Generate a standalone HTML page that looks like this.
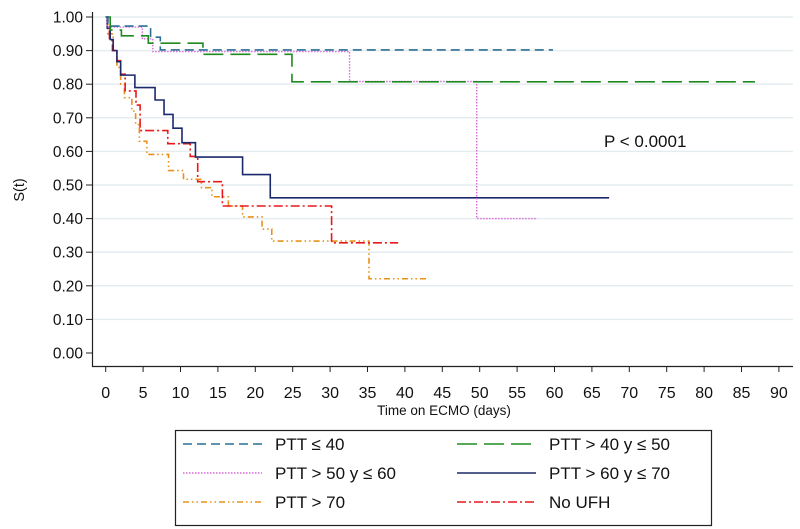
<!DOCTYPE html>
<html><head><meta charset="utf-8"><style>
body{margin:0;background:#fff;}
svg{display:block;font-family:"Liberation Sans",Arial,sans-serif;}
</style></head><body>
<svg id="chart" width="800" height="529" viewBox="0 0 800 529" xmlns="http://www.w3.org/2000/svg">
<g id="grid"></g>
<g id="axes"></g>
<g id="series"></g>
<text x="604" y="147" font-size="17" fill="#111">P &lt; 0.0001</text>
<text x="444" y="415" font-size="13.5" fill="#111" text-anchor="middle">Time on ECMO (days)</text>
<text transform="translate(24,190) rotate(-90)" font-size="14.5" fill="#111" text-anchor="middle">S(t)</text>
<g id="legend">
<rect x="175.5" y="430.5" width="536" height="95" fill="none" stroke="#222" stroke-width="1.2"/>
</g>
</svg>
<script>
const xTicks=[0,5,10,15,20,25,30,35,40,45,50,55,60,65,70,75,80,85,90];
const yTicks=[0,0.1,0.2,0.3,0.4,0.5,0.6,0.7,0.8,0.9,1.0];
const yTickLabels=["0.00","0.10","0.20","0.30","0.40","0.50","0.60","0.70","0.80","0.90","1.00"];
const seriesNames=["PTT ≤ 40","PTT > 40 y ≤ 50","PTT > 50 y ≤ 60","PTT > 60 y ≤ 70","PTT > 70","No UFH"];
const t1=[0,0.3,6.0,7.3,59.8];            const s1=[1,0.973,0.94,0.902,0.902];
const t2=[0,0.6,2.1,5.7,13.0,24.9,86.8];  const s2=[1,0.961,0.944,0.922,0.889,0.807,0.807];
const t3=[0,0.2,4.9,6.3,32.6,49.6,57.7];  const s3=[1,0.97,0.935,0.897,0.808,0.40,0.40];
const t4=[0,0.2,0.6,1.0,1.5,2.0,3.9,6.6,7.8,9.0,10.2,12.0,18.3,22.0,67.3];
const s4=[1,0.967,0.933,0.90,0.867,0.827,0.79,0.753,0.71,0.669,0.626,0.583,0.531,0.462,0.462];
const t5=[0,0.3,1.0,1.5,2.0,2.5,3.5,4.0,4.5,5.5,8.4,10.4,12.8,14.2,16.4,18.3,20.9,22.2,35.2,43.1];
const s5=[1,0.95,0.90,0.85,0.80,0.76,0.72,0.68,0.63,0.591,0.543,0.517,0.492,0.465,0.4375,0.405,0.369,0.333,0.221,0.221];
const t6=[0,0.2,0.5,0.9,1.5,2.0,2.6,4.05,4.6,8.3,11.3,12.3,15.6,30.2,39.1];
const s6=[1,0.97,0.93,0.90,0.87,0.83,0.78,0.738,0.662,0.623,0.585,0.51,0.4375,0.328,0.328];

const NS="http://www.w3.org/2000/svg";
const X=t=>105.7+7.48*t;
const Y=v=>353-336*v;
function mk(tag,attrs,parent){const e=document.createElementNS(NS,tag);for(const k in attrs)e.setAttribute(k,attrs[k]);parent.appendChild(e);return e;}
const grid=document.getElementById('grid'),axes=document.getElementById('axes'),ser=document.getElementById('series'),leg=document.getElementById('legend');
yTicks.forEach((v,i)=>{
  if(v>0){const g=mk('line',{x1:92,x2:793,y1:Y(v),y2:Y(v),stroke:'#e6edf0','stroke-width':1.5},grid);
  
  }
  const tk=mk('line',{x1:86,x2:92,y1:Y(v),y2:Y(v),stroke:'#222','stroke-width':1},axes);
  
  
  const tx=mk('text',{x:83,y:Y(v)+5.5,'font-size':15.5,'text-anchor':'end',fill:'#111'},axes);
  tx.textContent=yTickLabels[i];
  
  
});
xTicks.forEach(t=>{
  const tk=mk('line',{x1:X(t),x2:X(t),y1:366,y2:372,stroke:'#222','stroke-width':1},axes);
  
  
  const tx=mk('text',{x:X(t),y:398,'font-size':16,'text-anchor':'middle',fill:'#111'},axes);
  tx.textContent=t;
  
  
});
const ax=mk('path',{d:'M92.5,12 V366.5 H793',fill:'none',stroke:'#222','stroke-width':1.2},axes);



const styles=[
 {c:'#2a6f97',d:'9,5',w:1.6},
 {c:'#1f8a1f',d:'20,7',w:1.6},
 {c:'#d86ad8',d:'1.5,1.5',w:1.4},
 {c:'#1b2a6b',d:'',w:1.6},
 {c:'#e8901a',d:'6,3,1.5,3,1.5,3',w:1.6},
 {c:'#e8191c',d:'9,3,2,3',w:1.6}];
const allT=[t1,t2,t3,t4,t5,t6],allS=[s1,s2,s3,s4,s5,s6];
const order=[4,5,3,2,1,0];
order.forEach(k=>{
  const T=allT[k],S=allS[k];
  let d='M'+X(T[0])+','+Y(S[0]);
  for(let i=1;i<T.length;i++){d+=' H'+X(T[i])+' V'+Y(S[i]);}
  const p=mk('path',{d:d,fill:'none',stroke:styles[k].c,'stroke-width':styles[k].w,'stroke-dasharray':styles[k].d},ser);
  
  
});
const legPos=[[183,450],[457,450],[183,479],[457,479],[183,508],[457,508]];
seriesNames.forEach((n,k)=>{
  const [lx,ly]=legPos[k];
  const l=mk('line',{x1:lx,x2:lx+79,y1:ly-6,y2:ly-6,stroke:styles[k].c,'stroke-width':styles[k].w,'stroke-dasharray':styles[k].d},leg);
  
  
  const tx=mk('text',{x:lx+92,y:ly,'font-size':17,fill:'#111'},leg);
  tx.textContent=n;
  
  
});
</script>
</body></html>
